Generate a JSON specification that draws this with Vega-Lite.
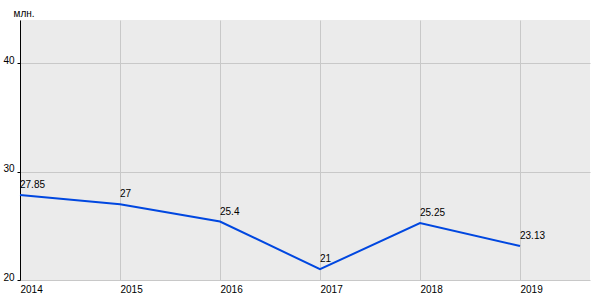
{
  "$schema": "https://vega.github.io/schema/vega-lite/v6.json",
  "width": 570,
  "height": 260,
  "autosize": "none",
  "padding": {"left": 20, "top": 20, "right": 10, "bottom": 20},
  "background": "white",
  "config": {
    "view": {"fill": "#ebebeb", "stroke": null},
    "font": "Liberation Sans"
  },
  "data": {
    "values": [
      {"year": 2014, "value": 27.85, "label": "27.85"},
      {"year": 2015, "value": 27, "label": "27"},
      {"year": 2016, "value": 25.4, "label": "25.4"},
      {"year": 2017, "value": 21, "label": "21"},
      {"year": 2018, "value": 25.25, "label": "25.25"},
      {"year": 2019, "value": 23.13, "label": "23.13"}
    ]
  },
  "encoding": {
    "x": {
      "field": "year",
      "type": "quantitative",
      "scale": {"domain": [2014, 2019.7], "nice": false, "zero": false},
      "axis": {
        "title": null,
        "values": [2014, 2015, 2016, 2017, 2018, 2019],
        "format": "d",
        "ticks": false,
        "domain": false,
        "grid": true,
        "gridColor": "#c8c8c8",
        "gridOpacity": 1,
        "labelAlign": "left",
        "labelBaseline": "top",
        "labelPadding": 4,
        "labelFontSize": 10,
        "labelColor": "#000000",
        "labelFont": "Liberation Sans"
      }
    },
    "y": {
      "field": "value",
      "type": "quantitative",
      "scale": {"domain": [20, 44], "nice": false, "zero": false},
      "axis": {
        "title": "млн.",
        "titleAngle": 0,
        "titleX": -7,
        "titleY": -7,
        "titleAlign": "left",
        "titleBaseline": "middle",
        "titleFontWeight": "normal",
        "titleFontSize": 10,
        "titleColor": "#000000",
        "titleFont": "Liberation Sans",
        "values": [20, 30, 40],
        "grid": true,
        "gridColor": "#c8c8c8",
        "gridOpacity": 1,
        "domainColor": "#000000",
        "domainWidth": 1,
        "tickColor": "#000000",
        "tickSize": 3,
        "labelPadding": 3,
        "labelBaseline": "alphabetic",
        "labelFontSize": 10,
        "labelColor": "#000000",
        "labelFont": "Liberation Sans"
      }
    }
  },
  "layer": [
    {
      "mark": {"type": "line", "color": "#0047e0", "strokeWidth": 2}
    },
    {
      "mark": {"type": "text", "align": "left", "baseline": "middle", "dy": -10, "fontSize": 10, "color": "#000000", "font": "Liberation Sans"},
      "encoding": {"text": {"field": "label", "type": "nominal"}}
    }
  ]
}
